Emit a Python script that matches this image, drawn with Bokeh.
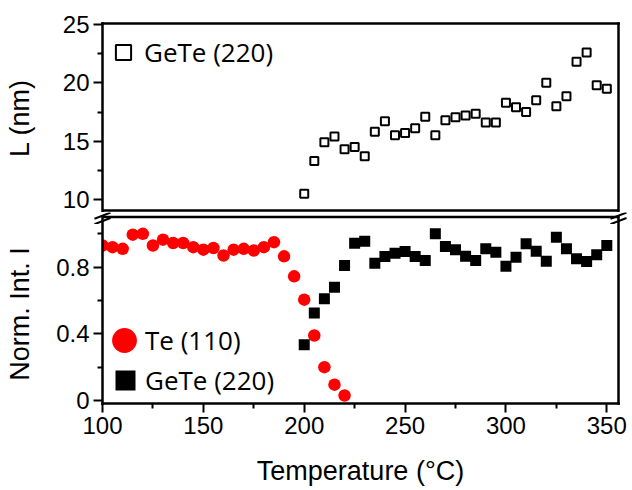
from bokeh.plotting import figure
from bokeh.layouts import column
from bokeh.models import FixedTicker, Range1d, Legend, LegendItem, LinearAxis
from bokeh.embed import file_html
from bokeh.resources import INLINE

# ---- data ----
temp_te = [100, 105, 110, 115, 120, 125, 130, 135, 140, 145, 150, 155, 160,
           165, 170, 175, 180, 185, 190, 195, 200, 205, 210, 215, 220]
int_te = [0.93, 0.92, 0.91, 0.995, 1.0, 0.93, 0.965, 0.945, 0.945, 0.92, 0.905,
          0.915, 0.87, 0.905, 0.91, 0.90, 0.92, 0.95, 0.865, 0.745, 0.605, 0.39,
          0.20, 0.095, 0.03]
temp_gete = [200, 205, 210, 215, 220, 225, 230, 235, 240, 245, 250, 255, 260,
             265, 270, 275, 280, 285, 290, 295, 300, 305, 310, 315, 320, 325,
             330, 335, 340, 345, 350]
int_gete = [0.334, 0.525, 0.61, 0.68, 0.81, 0.944, 0.956, 0.824, 0.864, 0.884,
            0.894, 0.864, 0.84, 1.0, 0.924, 0.904, 0.866, 0.84, 0.91, 0.89,
            0.806, 0.86, 0.94, 0.896, 0.836, 0.98, 0.91, 0.85, 0.834, 0.874, 0.93]
size_gete = [10.5, 13.3, 14.9, 15.4, 14.3, 14.5, 13.7, 15.8, 16.7, 15.5, 15.7,
             16.1, 17.1, 15.5, 16.8, 17.05, 17.2, 17.35, 16.6, 16.6, 18.3, 17.9,
             17.5, 18.5, 20.0, 18.0, 18.85, 21.8, 22.6, 19.8, 19.5]

x_major = [100, 150, 200, 250, 300, 350]
x_minor = [125, 175, 225, 275, 325]
top_major = [10, 15, 20, 25]
top_minor = [12.5, 17.5, 22.5]
bot_major = [0.0, 0.4, 0.8]
bot_minor = [0.2, 0.6, 1.0]

X_RANGE = (100, 355.8)
BOT_Y = (-0.018, 1.056)

# ---- layout constants (pixels) ----
W = 632
FRAME_L, FRAME_R = 102, 618
TOP_FRAME_T = 23             # top edge of upper panel
TOP_EDGE_B = 210             # drawn bottom edge of upper panel
BOT_EDGE_T = 216.5           # drawn top edge of lower panel
H_TOP, H_GAP, H_BOT = 212, 12, 264
BRK_Y = (215.2, 220.6)       # centres of the two break strokes
BRK_DX, BRK_DY = 8, 3.1
LW = 2.5

PPU_TOP = 11.67              # px per nm in the upper panel
TOP_END = 25.086
TOP_START = TOP_END - (H_TOP - TOP_FRAME_T) / PPU_TOP

AX_FONT = "Liberation Sans"
LEG_FONT = "Open Sans"


def top_y(py):
    return TOP_END - (py - TOP_FRAME_T) / PPU_TOP


def style(p):
    p.outline_line_color = None
    p.xgrid.visible = False
    p.ygrid.visible = False
    p.background_fill_color = "white"
    p.border_fill_color = "white"


def style_axis(ax, label_standoff=4):
    ax.axis_line_width = LW
    ax.axis_line_cap = "square"
    ax.axis_line_color = "black"
    ax.major_tick_line_width = 2
    ax.minor_tick_line_width = 2
    ax.major_tick_in = 0
    ax.major_tick_out = 9
    ax.minor_tick_in = 0
    ax.minor_tick_out = 5
    ax.major_label_text_font = AX_FONT
    ax.major_label_text_font_size = "24px"
    ax.major_label_text_color = "black"
    ax.major_label_standoff = label_standoff
    ax.axis_label_text_font = AX_FONT
    ax.axis_label_text_font_size = "27px"
    ax.axis_label_text_font_style = "normal"
    ax.axis_label_text_color = "black"


def blank_axis(**kw):
    ax = LinearAxis(ticker=FixedTicker(ticks=[], minor_ticks=[]), **kw)
    ax.axis_line_width = LW
    ax.axis_line_cap = "square"
    ax.major_tick_out = 0
    ax.minor_tick_out = 0
    ax.major_label_standoff = 0
    return ax


# ---- top panel ----
p1 = figure(width=W, height=H_TOP, output_backend="svg", toolbar_location=None,
            x_range=Range1d(*X_RANGE), y_range=Range1d(TOP_START, TOP_END),
            min_border_left=FRAME_L, min_border_right=W - FRAME_R,
            min_border_top=TOP_FRAME_T, min_border_bottom=0)
style(p1)
p1.xaxis.visible = False
style_axis(p1.yaxis[0])
p1.yaxis.ticker = FixedTicker(ticks=top_major, minor_ticks=top_minor)
p1.yaxis.axis_label = "L (nm)"
p1.yaxis.axis_label_standoff = 25
p1.add_layout(blank_axis(), "above")
p1.add_layout(blank_axis(), "right")
# drawn bottom edge of the upper panel (the frame itself runs on into the break)
p1.segment(x0=[X_RANGE[0]], y0=[top_y(TOP_EDGE_B)], x1=[X_RANGE[1]],
           y1=[top_y(TOP_EDGE_B)], line_color="black", line_width=LW)
r_top = p1.scatter(temp_gete, size_gete, marker="square", size=8,
                   fill_color="white", line_color="black", line_width=2)
leg1 = Legend(items=[LegendItem(label="GeTe (220)", renderers=[r_top])],
              location=(2, 141), glyph_width=38, glyph_height=38,
              label_standoff=2, padding=0, margin=0, spacing=0,
              border_line_color=None, background_fill_alpha=0,
              label_text_font=LEG_FONT, label_text_font_size="26px",
              label_text_color="black")
p1.add_layout(leg1)

# ---- gap strip: top edge of lower panel and the axis-break marks ----
pg = figure(width=W, height=H_GAP, output_backend="svg", toolbar_location=None,
            x_range=Range1d(0, W), y_range=Range1d(H_TOP + H_GAP, H_TOP),
            x_axis_type=None, y_axis_type=None,
            min_border_left=0, min_border_right=0, min_border_top=0,
            min_border_bottom=0)
style(pg)
pg.line(x=[FRAME_L, FRAME_L, FRAME_R, FRAME_R],
        y=[H_TOP + H_GAP, BOT_EDGE_T, BOT_EDGE_T, H_TOP + H_GAP],
        line_color="black", line_width=LW, line_join="miter")
bx0, by0, bx1, by1 = [], [], [], []
for fx in (FRAME_L, FRAME_R):
    for cy in BRK_Y:
        bx0.append(fx - BRK_DX)
        by0.append(cy + BRK_DY)
        bx1.append(fx + BRK_DX)
        by1.append(cy - BRK_DY)
pg.segment(x0=bx0, y0=by0, x1=bx1, y1=by1, line_color="black", line_width=2)

# ---- bottom panel ----
p2 = figure(width=W, height=H_BOT, output_backend="svg", toolbar_location=None,
            x_range=Range1d(*X_RANGE), y_range=Range1d(*BOT_Y),
            min_border_left=FRAME_L, min_border_right=W - FRAME_R,
            min_border_top=0, min_border_bottom=H_BOT - 179)
style(p2)
style_axis(p2.xaxis[0])
style_axis(p2.yaxis[0])
p2.xaxis.ticker = FixedTicker(ticks=x_major, minor_ticks=x_minor)
p2.yaxis.ticker = FixedTicker(ticks=bot_major, minor_ticks=bot_minor)
p2.yaxis.axis_label = "Norm. Int. I"
p2.yaxis.axis_label_standoff = 18
p2.xaxis.axis_label = "Temperature (°C)"
p2.xaxis.axis_label_standoff = 19
p2.add_layout(blank_axis(), "right")
r_te = p2.scatter(temp_te, int_te, marker="circle", size=12.5,
                  fill_color="#ff0000", line_color=None)
r_ge = p2.scatter(temp_gete, int_gete, marker="square", size=11,
                  fill_color="black", line_color=None)


def key_legend(item, loc, box):
    return Legend(items=[item], location=loc, glyph_width=box, glyph_height=box,
                  label_standoff=0, padding=0, margin=0, spacing=0,
                  border_line_color=None, background_fill_alpha=0,
                  label_text_font=LEG_FONT, label_text_font_size="26px")


p2.add_layout(key_legend(LegendItem(label=" ", renderers=[r_te]), (-9, 32), 62))
p2.add_layout(key_legend(LegendItem(label=" ", renderers=[r_ge]), (-2, -2), 50))
leg_txt = Legend(items=[LegendItem(label="Te (110)", renderers=[r_te]),
                        LegendItem(label="GeTe (220)", renderers=[r_ge])],
                 location=(43, 3), glyph_width=0, glyph_height=40,
                 label_standoff=0, padding=0, margin=0, spacing=0,
                 border_line_color=None, background_fill_alpha=0,
                 label_text_font=LEG_FONT, label_text_font_size="26px",
                 label_text_color="black")
p2.add_layout(leg_txt)

# the gap strip sits in its own column so that its frame is not aligned
# with the frames of the two panels and can span the whole width
layout = column(p1, column(pg, spacing=0), p2, spacing=0)
open("out.html", "w").write(file_html(layout, INLINE))
